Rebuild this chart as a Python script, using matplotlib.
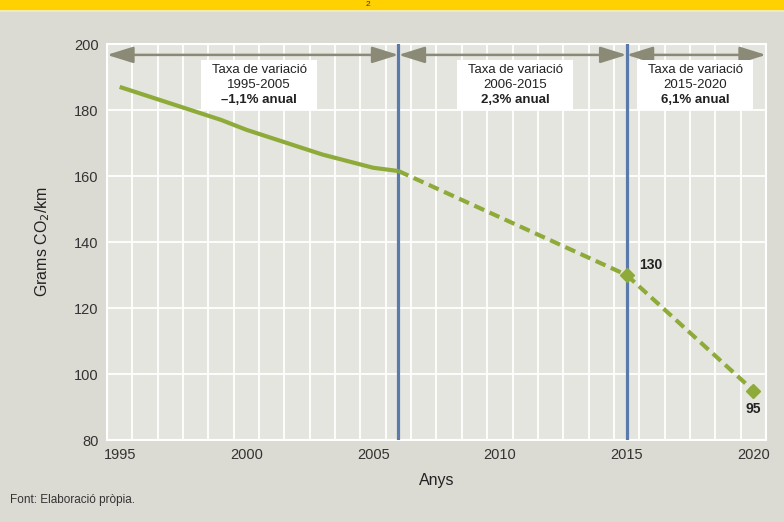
import numpy as np
import matplotlib.pyplot as plt
from matplotlib.patches import Rectangle

plt.rcParams['font.family'] = ['Liberation Sans', 'DejaVu Sans']

# Data
years_hist = [1995, 1996, 1997, 1998, 1999, 2000, 2001, 2002, 2003, 2004, 2005, 2006]
vals_hist = [187, 184.5, 182, 179.5, 177, 174, 171.5, 169, 166.5, 164.5, 162.5, 161.5]
years_mid = [2006, 2007, 2008, 2009, 2010, 2011, 2012, 2013, 2014, 2015]
vals_mid = [161.5, 158, 154.5, 151, 147.5, 144, 140.5, 137, 133.5, 130]
years_goal = [2015, 2020]
vals_goal = [130, 95]
breaks = [2006, 2015]
periods = [(1994.5, 2006), (2006, 2015), (2015, 2020.5)]
period_years = ['1995-2005', '2006-2015', '2015-2020']
period_rates = ['\u20131,1% anual', '2,3% anual', '6,1% anual']
box_centers = [2000.5, 2010.6, 2017.7]
xticks = [1995, 2000, 2005, 2010, 2015, 2020]
yticks = [80, 100, 120, 140, 160, 180, 200]

green = '#8eab3a'
blue = '#5a7aab'
arrow_c = '#8a8a76'
fig_bg = '#dcdbd3'
ax_bg = '#e5e5e0'
txt = '#222222'

fig = plt.figure(figsize=(7.84, 5.22), dpi=100, facecolor=fig_bg)

# top yellow band
fig.patches.append(Rectangle((0, 1 - 10 / 522), 1, 10 / 522, transform=fig.transFigure,
                             facecolor='#ffd100', edgecolor='none'))
fig.patches.append(Rectangle((0, 1 - 12 / 522), 1, 2 / 522, transform=fig.transFigure,
                             facecolor='#f2eab0', edgecolor='none'))
fig.text(368 / 784, 1 - 5 / 522, '2', fontsize=6, ha='center', va='center', color='#333333')

ax = fig.add_axes([107 / 784, 82 / 522, 659 / 784, 396 / 522])
ax.set_facecolor(ax_bg)
ax.set_xlim(1994.5, 2020.5)
ax.set_ylim(80, 200)
for s in ax.spines.values():
    s.set_color('white')
    s.set_linewidth(1.5)

ax.set_xticks(xticks)
ax.set_xticks(np.arange(1994.5, 2021, 1.0), minor=True)
ax.set_yticks(yticks)
ax.grid(which='minor', axis='x', color='white', lw=1.3)
ax.grid(which='major', axis='y', color='white', lw=1.3)
ax.set_axisbelow(True)
ax.tick_params(which='both', length=0, labelsize=10.5, colors='#333333')
ax.tick_params(axis='x', pad=6)
ax.tick_params(axis='y', pad=6)

for b in breaks:
    ax.axvline(b, color=blue, lw=2.3, zorder=3)

ax.plot(years_hist, vals_hist, color=green, lw=3.0, solid_capstyle='butt', zorder=4)
ax.plot(years_mid, vals_mid, color=green, lw=3.0, dashes=(2.6, 1.4), zorder=4)
ax.plot(years_goal, vals_goal, color=green, lw=3.0, dashes=(2.6, 1.4), zorder=4)
ax.plot(years_goal, vals_goal, ls='none', marker='D', ms=7, color=green, zorder=5)

ax.annotate(f'{vals_goal[0]}', (years_goal[0], vals_goal[0]), xytext=(9, 2),
            textcoords='offset points', ha='left', va='bottom', fontsize=10,
            fontweight='bold', color=txt)
ax.annotate(f'{vals_goal[1]}', (years_goal[1], vals_goal[1]), xytext=(0, -8),
            textcoords='offset points', ha='center', va='top', fontsize=10,
            fontweight='bold', color=txt)

# period arrows
for (x0, x1) in periods:
    ax.annotate('', xy=(x1, 196.7), xytext=(x0, 196.7),
                arrowprops=dict(arrowstyle='<|-|>,head_length=1.6,head_width=0.5',
                                color=arrow_c, lw=1.8, shrinkA=0, shrinkB=0),
                zorder=2)

# rate boxes
for cx, yrs, rate in zip(box_centers, period_years, period_rates):
    ax.add_patch(Rectangle((cx - 2.3, 180), 4.6, 15.2, facecolor='white',
                           edgecolor='none', zorder=6))
    ax.text(cx, 192.1, 'Taxa de variació', ha='center', va='center', fontsize=9.5,
            color=txt, zorder=7)
    ax.text(cx, 187.6, yrs, ha='center', va='center', fontsize=9.5, color=txt, zorder=7)
    ax.text(cx, 183.0, rate, ha='center', va='center', fontsize=9.5,
            fontweight='bold', color=txt, zorder=7)

ax.set_xlabel('Anys', fontsize=11.5, color=txt, labelpad=8)
ax.set_ylabel('Grams CO$_2$/km', fontsize=11.5, color=txt, labelpad=16)

fig.text(10 / 784, 1 - 500 / 522, 'Font: Elaboració pròpia.', fontsize=8.5,
         ha='left', va='center', color='#333333')

fig.savefig('out.png', dpi=100, facecolor=fig_bg)
